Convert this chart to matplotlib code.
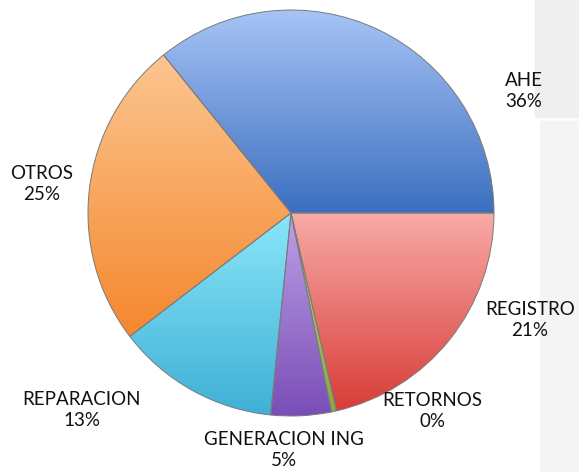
import numpy as np
import matplotlib
matplotlib.use('Agg')  # noqa
import matplotlib.pyplot as plt
from matplotlib.colors import LinearSegmentedColormap
from matplotlib.patches import Rectangle

# data
categories = ['AHE', 'OTROS', 'REPARACION', 'GENERACION ING', 'RETORNOS', 'REGISTRO']
values = [35.8, 24.6, 13.0, 4.8, 0.4, 21.4]
light_colors = ['#a9c5f7', '#fcc690', '#8ae6f8', '#bda2e6', '#c6d98a', '#f8aaa7']
dark_colors = ['#3c6fc0', '#f5872e', '#3fb0d6', '#7a4db8', '#8aa83e', '#d83c37']

# label positions in pixels (x, y from top)
label_pos = [(524, 91), (42, 184), (82, 410), (284, 450), (432, 411), (530, 320)]

W, H = 579, 472
fig = plt.figure(figsize=(W / 100, H / 100), dpi=100)
ax = fig.add_axes([0, 0, 1, 1])

# grey panel on the right
ax.add_patch(Rectangle((535, H - 117), W - 535, 117, color='#efefef', zorder=0))
ax.add_patch(Rectangle((540, 0), W - 540, H - 121, color='#f4f4f4', zorder=0))

cx, cy, r = 291, H - 213, 203
wedges, _ = ax.pie(values, startangle=0, counterclock=True, center=(cx, cy),
                   radius=r, colors=dark_colors, frame=True,
                   wedgeprops=dict(edgecolor='#7a7a7a', linewidth=0.7))

for w, c1, c2 in zip(wedges, light_colors, dark_colors):
    path = w.get_path()
    verts = w.get_transform().transform(path.vertices)
    verts = ax.transData.inverted().transform(verts)
    x0, x1 = verts[:, 0].min(), verts[:, 0].max()
    y0, y1 = verts[:, 1].min(), verts[:, 1].max()
    cmap = LinearSegmentedColormap.from_list('g', [c2, c1])
    grad = np.linspace(0, 1, 256).reshape(-1, 1)
    im = ax.imshow(grad, cmap=cmap, extent=(x0, x1, y0, y1), origin='lower',
                   aspect='auto', zorder=1.5, interpolation='bilinear')
    im.set_clip_path(w)
    w.set_facecolor('none')
    w.set_zorder(2)

for name, v, (px, py) in zip(categories, values, label_pos):
    ax.text(px, H - py, '%s\n%d%%' % (name, round(v)), ha='center', va='center',
            fontsize=13.5, family='Lato', color='#111111', linespacing=1.3)

ax.set_xlim(0, W)
ax.set_ylim(0, H)
ax.set_aspect('equal')
ax.axis('off')
fig.savefig('out.png', dpi=100)
